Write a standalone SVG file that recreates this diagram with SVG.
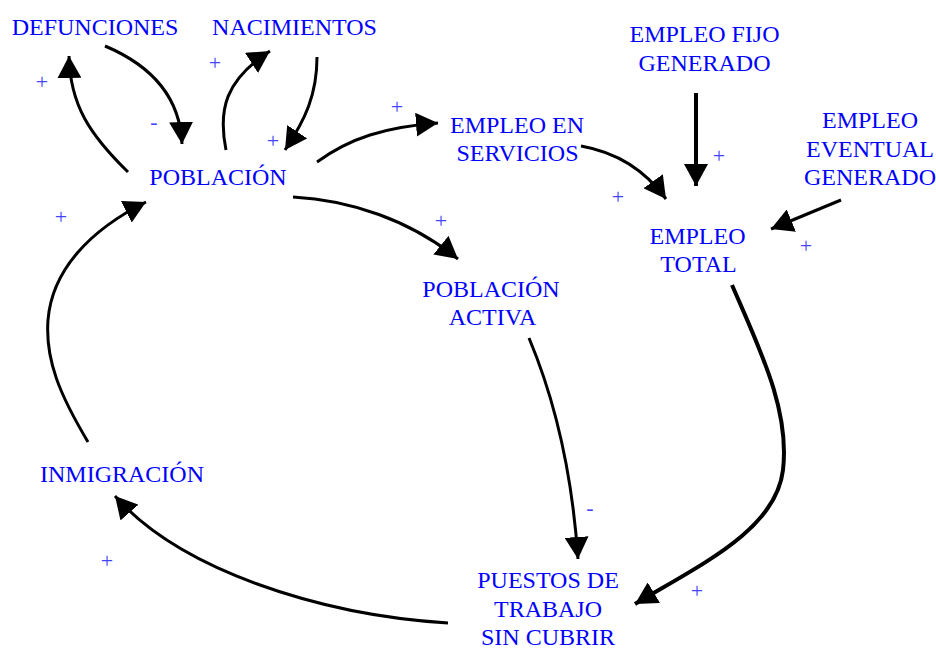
<svg xmlns="http://www.w3.org/2000/svg" width="936" height="651" viewBox="0 0 936 651">
<style>
.n{font-family:"Liberation Serif","Times New Roman",serif;font-size:24px;fill:#0000ff;text-anchor:middle}
.s{font-family:"Liberation Serif","Times New Roman",serif;font-size:22px;fill:#4444ff;text-anchor:middle}
.c{fill:none;stroke:#000;stroke-width:3;marker-end:url(#ah)}
.t{stroke-width:4}
</style>
<defs>
<marker id="ah" viewBox="0 0 22 24" refX="22" refY="12" markerWidth="22" markerHeight="24" markerUnits="userSpaceOnUse" orient="auto">
<path d="M0,0 L22,12 L0,24 z" fill="#000"/>
</marker>
</defs>
<rect width="936" height="651" fill="#fff"/>
<g id="connectors">
<path class="c" d="M128,172 C90,135 70,105 69,56"/>
<path class="c" d="M105,46 C150,65 180,95 182,144"/>
<path class="c" d="M226,150 C218,110 225,80 270,51"/>
<path class="c" d="M317,57 C317,95 305,120 285,150"/>
<path class="c" d="M317,162 C350,138 385,127 438,123"/>
<path class="c" d="M293,197 C350,200 410,220 458,259"/>
<path class="c" d="M581,146 C615,152 645,170 666,199"/>
<path class="c t" d="M696,93 L696,186"/>
<path class="c" d="M841,200 L771,229"/>
<path class="c t" d="M732,285 C760,350 790,410 783,470 C776,530 700,565 635,604"/>
<path class="c" d="M529,338 C555,400 572,470 578,559"/>
<path class="c" d="M448,623 C320,615 180,570 115,496"/>
<path class="c" d="M88,442 C60,395 45,360 48,320 C52,270 90,230 146,202"/>
</g>
<g id="signs">
<text class="s" x="42" y="89">+</text>
<text class="s" x="154" y="129">-</text>
<text class="s" x="215" y="70">+</text>
<text class="s" x="273" y="148">+</text>
<text class="s" x="397" y="114">+</text>
<text class="s" x="441" y="228">+</text>
<text class="s" x="618" y="204">+</text>
<text class="s" x="719" y="163">+</text>
<text class="s" x="806" y="253">+</text>
<text class="s" x="61" y="224">+</text>
<text class="s" x="107" y="568">+</text>
<text class="s" x="590" y="515">-</text>
<text class="s" x="697" y="598">+</text>
</g>
<g id="defunciones"><text class="n" x="95" y="35">DEFUNCIONES</text></g>
<g id="nacimientos"><text class="n" x="294.5" y="35">NACIMIENTOS</text></g>
<g id="poblacion"><text class="n" x="218" y="185">POBLACIÓN</text></g>
<g id="empleo-servicios"><text class="n" x="517" y="133">EMPLEO EN</text><text class="n" x="517.5" y="161">SERVICIOS</text></g>
<g id="empleo-fijo"><text class="n" x="704.5" y="42">EMPLEO FIJO</text><text class="n" x="704.5" y="71">GENERADO</text></g>
<g id="empleo-eventual"><text class="n" x="870" y="128">EMPLEO</text><text class="n" x="870" y="157">EVENTUAL</text><text class="n" x="870" y="185">GENERADO</text></g>
<g id="empleo-total"><text class="n" x="697.5" y="244">EMPLEO</text><text class="n" x="698.5" y="272">TOTAL</text></g>
<g id="poblacion-activa"><text class="n" x="491" y="297">POBLACIÓN</text><text class="n" x="492.5" y="325">ACTIVA</text></g>
<g id="inmigracion"><text class="n" x="122" y="482">INMIGRACIÓN</text></g>
<g id="puestos"><text class="n" x="548" y="588">PUESTOS DE</text><text class="n" x="548" y="617">TRABAJO</text><text class="n" x="548" y="645">SIN CUBRIR</text></g>
</svg>
